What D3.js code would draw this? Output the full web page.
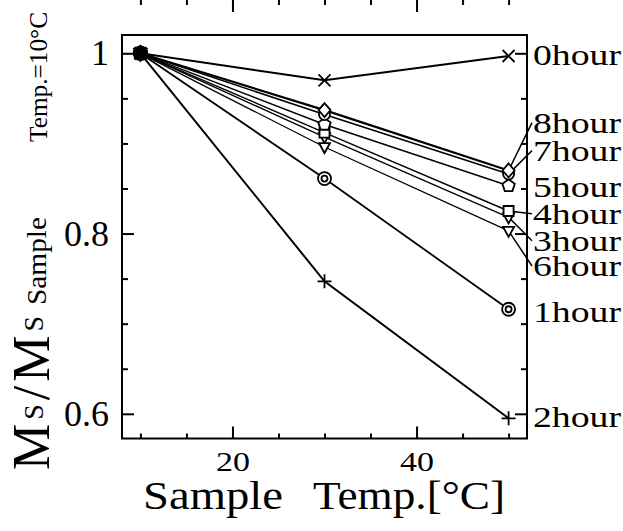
<!DOCTYPE html>
<html>
<head>
<meta charset="utf-8">
<script src="https://cdn.jsdelivr.net/npm/d3@7"></script>
<style>body{margin:0;background:#fff}</style>
</head>
<body>
<svg id="chart" width="623" height="531"></svg>
<script>
var temps = [10, 30, 50];
var hours = ["0hour", "1hour", "2hour", "3hour", "4hour", "5hour", "6hour", "7hour", "8hour"];
var h0 = [1, 0.970, 0.997];
var h1 = [1, 0.861, 0.716];
var h2 = [1, 0.747, 0.595];
var h3 = [1, 0.907, 0.818];
var h4 = [1, 0.912, 0.825];
var h5 = [1, 0.921, 0.853];
var h6 = [1, 0.896, 0.803];
var h7 = [1, 0.932, 0.866];
var h8 = [1, 0.937, 0.870];
var seriesValues = [h0, h1, h2, h3, h4, h5, h6, h7, h8];
// where each label sits on the right, in y units
var labelAt = [0.999, 0.714, 0.597, 0.792, 0.822, 0.852, 0.764, 0.892, 0.923];
var leaders = ["3hour", "4hour", "6hour", "7hour", "8hour"];
var xMinor = [10, 15, 25, 30, 35, 45, 50];
var xMajor = [20, 40];
var yMinor = [0.65, 0.7, 0.75, 0.85, 0.9, 0.95];
var yMajor = [0.6, 0.8, 1];

var serif = "'Liberation Serif', 'Times New Roman', Times, serif";
var svg = d3.select("#chart");

var x = d3.scaleLinear().domain([8, 52]).range([122, 527]);
var y = d3.scaleLinear().domain([0.5726, 1.0203]).range([438.5, 35]);

// frame
svg.append("rect")
    .attr("x", x.range()[0]).attr("y", y.range()[1])
    .attr("width", x.range()[1] - x.range()[0])
    .attr("height", y.range()[0] - y.range()[1])
    .attr("fill", "none").attr("stroke", "#000").attr("stroke-width", 2);

function ticks(axis, pos, vals, len, labels) {
  var g = svg.append("g")
      .attr("transform", pos)
      .call(axis.tickValues(vals).tickSizeInner(-len).tickSizeOuter(0)
        .tickFormat(labels ? d3.format("") : "").tickPadding(labels ? 13 : 3));
  g.select(".domain").remove();
  g.selectAll("line").attr("stroke", "#000").attr("stroke-width", 2);
  g.selectAll("text").attr("font-family", serif).attr("fill", "#000");
  return g;
}
var bot = "translate(0," + y.range()[0] + ")",
    top = "translate(0," + y.range()[1] + ")",
    lft = "translate(" + x.range()[0] + ",0)",
    rgt = "translate(" + x.range()[1] + ",0)";

ticks(d3.axisBottom(x), bot, xMinor, 5, false);
ticks(d3.axisBottom(x), bot, xMajor, 12, true).selectAll("text")
    .attr("font-size", 28).attr("textLength", 34).attr("lengthAdjust", "spacingAndGlyphs");
ticks(d3.axisTop(x), top, xMinor, 5, false);
ticks(d3.axisTop(x), top, xMajor, 12, false);
ticks(d3.axisLeft(y), lft, yMinor, 6, false);
ticks(d3.axisLeft(y), lft, yMajor, 12, true).selectAll("text").attr("font-size", 36);
ticks(d3.axisRight(y), rgt, yMinor, 6, false);
ticks(d3.axisRight(y), rgt, yMajor, 12, false);

// marker shapes
function pentagon(r) {
  var p = d3.path();
  for (var i = 0; i < 5; i++) {
    var a = -Math.PI / 2 + i * 2 * Math.PI / 5;
    if (i === 0) p.moveTo(r * Math.cos(a), r * Math.sin(a));
    else p.lineTo(r * Math.cos(a), r * Math.sin(a));
  }
  p.closePath();
  return p.toString();
}
function circ(r) {
  var p = d3.path();
  p.moveTo(r, 0); p.arc(0, 0, r, 0, 2 * Math.PI);
  return p.toString();
}
var shapes = {
  "0hour": "M-6,-6L6,6M-6,6L6,-6",
  "1hour": circ(6.5) + circ(3),
  "2hour": "M-7,0L7,0M0,-7L0,7",
  "3hour": "M-5.5,-4L5.5,-4L0,6Z",
  "4hour": "M-5,-5L5,-5L5,5L-5,5Z",
  "5hour": pentagon(6.5),
  "6hour": "M-5.5,-4L5.5,-4L0,6Z",
  "7hour": circ(5.5),
  "8hour": "M0,-7L6,0L0,7L-6,0Z"
};
var widths = [2, 1.8, 2, 1.3, 1.4, 1.4, 1.3, 1.6, 2.2];

var line = d3.line()
    .x(function(d) { return x(d.t); })
    .y(function(d) { return y(d.v); });

var series = hours.map(function(h, i) {
  return {name: h, pts: temps.map(function(t, j) { return {t: t, v: seriesValues[i][j]}; })};
});

// leaders from labels to end markers
leaders.forEach(function(h) {
  var i = hours.indexOf(h);
  svg.append("line")
      .attr("x1", x.range()[1] + 5).attr("y1", y(labelAt[i]))
      .attr("x2", x(50)).attr("y2", y(seriesValues[i][2]))
      .attr("stroke", "#000").attr("stroke-width", 1.5);
});

series.forEach(function(s, i) {
  svg.append("path")
      .datum(s.pts)
      .attr("fill", "none")
      .attr("stroke", "#000")
      .attr("stroke-width", widths[i])
      .attr("d", line);
});

series.forEach(function(s) {
  svg.selectAll(null)
      .data(s.pts)
    .enter().append("path")
      .attr("transform", function(d) { return "translate(" + x(d.t) + "," + y(d.v) + ")"; })
      .attr("d", shapes[s.name])
      .attr("fill", function(d, j) { return j === 0 ? "none" : "#fff"; })
      .attr("stroke", "#000")
      .attr("stroke-width", function(d, j) { return j === 0 ? 2.5 : 1.8; });
});

// right labels
svg.selectAll(".lab")
    .data(hours)
  .enter().append("text")
    .attr("x", x.range()[1] + 6)
    .attr("y", function(d, i) { return y(labelAt[i]); })
    .attr("dy", "0.35em")
    .attr("font-family", serif)
    .attr("font-size", 30)
    .attr("textLength", 88)
    .attr("lengthAdjust", "spacingAndGlyphs")
    .text(function(d) { return d; });

// x title
svg.append("text").attr("x", 143).attr("y", 509)
    .attr("font-family", serif).attr("font-size", 40)
    .attr("textLength", 140).attr("lengthAdjust", "spacingAndGlyphs")
    .text("Sample");
svg.append("text").attr("x", 313).attr("y", 509)
    .attr("font-family", serif).attr("font-size", 40)
    .attr("textLength", 192).attr("lengthAdjust", "spacingAndGlyphs")
    .text("Temp.[°C]");

// y title
var yt = svg.append("text")
    .attr("transform", "translate(49,470) rotate(-90)")
    .attr("font-family", serif).attr("letter-spacing", 4);
yt.append("tspan").attr("font-size", 52).text("M");
yt.append("tspan").attr("font-size", 28).attr("dy", -6).text("S");
yt.append("tspan").attr("font-size", 52).attr("dy", 6).text("/");
yt.append("tspan").attr("font-size", 52).text("M");
yt.append("tspan").attr("font-size", 28).attr("dy", -6).text("S");

svg.append("text")
    .attr("transform", "translate(46,305) rotate(-90)")
    .attr("font-family", serif).attr("font-size", 28)
    .attr("textLength", 88).attr("lengthAdjust", "spacingAndGlyphs")
    .text("Sample");
svg.append("text")
    .attr("transform", "translate(47,142) rotate(-90)")
    .attr("font-family", serif).attr("font-size", 25)
    .attr("textLength", 130).attr("lengthAdjust", "spacingAndGlyphs")
    .text("Temp.=10°C");
</script>
</body>
</html>
